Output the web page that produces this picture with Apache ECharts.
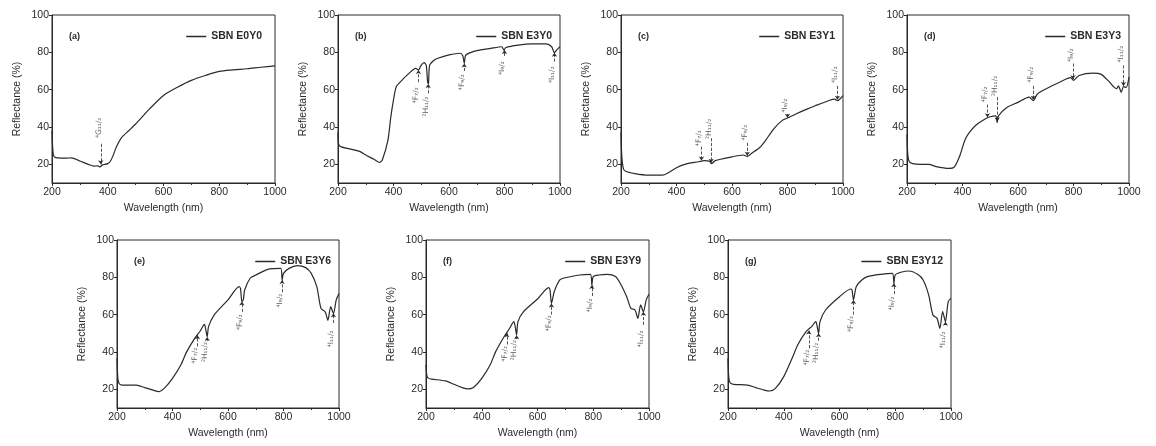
<!DOCTYPE html>
<html lang="en">
<head>
<meta charset="UTF-8">
<title>Reflectance spectra</title>
<script src="https://cdn.jsdelivr.net/npm/echarts@6/dist/echarts.min.js"></script>
<style>
  html, body { margin: 0; padding: 0; background: #fff; }
  #main { width: 1156px; height: 446px; }
</style>
</head>
<body>
<div id="main"></div>
<script>
// spectra [wavelength nm, reflectance %]
const specA = [[200,38],[202,30],[205,25],[210,23.8],[220,23.5],[250,23.3],[270,23.5],[300,21.8],[330,20],[350,19],[365,19.2],[372,18.6],[380,19.6],[400,20.4],[410,21.8],[420,25],[430,29],[450,34.4],[475,38],[500,41.6],[550,49.7],[600,56.9],[650,61.3],[700,65],[750,67.6],[800,69.8],[850,70.6],[900,71.2],[950,72],[1000,72.7]];
const specB = [[200,37],[202,31],[210,29.5],[250,28],[280,26.8],[300,25],[330,22.7],[350,21],[360,22.5],[380,33],[390,45],[400,54.5],[410,61.6],[430,65],[450,67.9],[480,71.4],[490,70.6],[500,73.2],[510,74.5],[518,73],[523,64],[526,63],[530,73],[545,75.6],[560,76.8],[600,78.6],[640,79.5],[650,78],[655,74.1],[660,78.4],[680,80],[700,80.9],[750,82.1],[790,83],[798,81.2],[805,82.6],[850,83.9],[900,84.5],[950,84.5],[970,83],[980,79.8],[990,81.6],[1000,83]];
const specC = [[200,37],[203,24],[208,18],[215,16.4],[250,15],[300,14.2],[350,14.2],[370,15.5],[400,18.2],[430,20],[480,21.4],[500,22],[520,21.6],[526,20.3],[540,22],[600,24],[640,25],[655,24.2],[670,25.8],[700,29],[720,32.6],[750,38.9],[780,43.4],[800,44.8],[830,47],[870,49.6],[900,51.4],[950,54.2],[970,54.9],[980,54.1],[1000,56.8]];
const specD = [[200,36],[203,25],[208,21.5],[220,20.4],[250,20],[280,20],[300,19],[350,17.8],[370,18.5],[390,24.5],[410,33.5],[430,38],[450,41.2],[480,44.2],[500,45.5],[520,46],[525,42.4],[530,46],[560,50.5],[600,53.2],[640,56],[655,54.1],[670,57.7],[700,60.4],[750,64],[790,66.4],[800,65],[820,67.6],[870,68.9],[900,68.2],[930,64],[945,61.5],[955,60.5],[962,62],[972,58.6],[980,61.6],[990,61.2],[1000,66.7]];
const specE = [[200,36.6],[203,26],[208,23],[220,22.3],[270,22.3],[300,20.9],[330,19.6],[350,18.75],[370,20.5],[400,25.9],[430,33],[450,39.8],[480,47.3],[500,51.25],[515,54.8],[520,51.8],[525,48.2],[530,53.6],[550,59.8],[600,67.9],[640,75],[645,74.1],[650,67],[655,67.9],[660,73.2],[680,79.5],[700,81.25],[750,84.5],[790,84.8],[795,78.6],[800,82.1],[820,84.8],[850,86.25],[880,85.2],[900,82.1],[920,75],[935,63.4],[950,61.6],[960,57],[970,64.3],[980,60.7],[990,67.9],[1000,71.4]];
const specF = [[200,33],[203,27.5],[208,26],[220,25.5],[270,24.5],[300,22.7],[330,20.9],[350,20.2],[370,21],[400,25.9],[430,33],[450,40.2],[480,48.2],[500,52.7],[515,56.25],[520,53.6],[525,49.1],[530,56.25],[550,61.6],[600,68.4],[640,74.5],[645,73.2],[650,66],[660,72.3],[680,78.6],[700,79.8],[750,81.25],[790,81.6],[795,75.9],[800,80.4],[820,81.25],[850,81.6],[880,80.4],[900,75.9],[920,69.6],[935,63.4],[950,62.5],[960,58],[970,65.2],[980,61.6],[990,67.9],[1000,70.9]];
const specG = [[200,36.6],[203,26],[208,23.5],[220,22.7],[270,22.3],[300,20.9],[330,19.6],[350,19.1],[370,20.5],[400,26.8],[430,36.6],[450,43.75],[480,50.9],[500,53.6],[515,56.25],[520,53.6],[525,50],[530,56.25],[550,62.5],[600,69.6],[640,73.75],[645,73.2],[650,67.9],[660,75],[680,78.6],[700,80.4],[750,81.6],[790,82.1],[795,76.8],[800,81.25],[820,82.7],[850,83.4],[880,81.6],[900,78.6],[920,70.5],[935,59.8],[950,58],[960,52.7],[970,61.6],[980,56.25],[990,67],[1000,68.75]];

const sampleNames = ['SBN E0Y0','SBN E3Y0','SBN E3Y1','SBN E3Y3','SBN E3Y6','SBN E3Y9','SBN E3Y12'];
const panelTags = ['(a)','(b)','(c)','(d)','(e)','(f)','(g)'];
const xTicks = [200,400,600,800,1000];
const yTicks = [20,40,60,80,100];

// transition marks: [wavelength, label, label centre y, arrow from y, arrow to y]
const annA = [[375,'⁴G₁₁/₂',39.5,31,20]];
const annB = [[490,'⁴F₇/₂',57,64,70.5],[525,'²H₁₁/₂',51,58,63],[655,'⁴F₉/₂',64,70,74],[800,'⁴I₉/₂',71.5,78,81.2],[980,'⁴I₁₁/₂',68,75,79.8]];
const annC = [[490,'⁴F₇/₂',34,29.5,22],[525,'²H₁₁/₂',39,34,20.8],[655,'⁴F₉/₂',37,31.5,24.6],[800,'⁴I₉/₂',51.5,47,45],[980,'⁴I₁₁/₂',68,62,54.6]];
const annD = [[490,'⁴F₇/₂',57.5,52,45.2],[525,'²H₁₁/₂',62,56,43],[655,'⁴F₉/₂',68,62,54.6],[798,'⁴I₉/₂',78.5,74,65.6],[980,'⁴I₁₁/₂',79,73,62]];
const annE = [[490,'⁴F₇/₂',38,43,49],[525,'²H₁₁/₂',40,46,48],[650,'⁴F₉/₂',56,61.5,67],[795,'⁴I₉/₂',67.5,72,78.6],[980,'⁴I₁₁/₂',47,55.5,60.7]];
const annF = [[490,'⁴F₇/₂',39,44,50],[525,'²H₁₁/₂',41,47,49],[650,'⁴F₉/₂',55.4,60,66],[795,'⁴I₉/₂',65,70,75.9],[980,'⁴I₁₁/₂',47,54.5,61.6]];
const annG = [[490,'⁴F₇/₂',37,42,51.5],[525,'²H₁₁/₂',39.5,46,50],[650,'⁴F₉/₂',55,60,67.9],[795,'⁴I₉/₂',66,71,76.8],[980,'⁴I₁₁/₂',46.5,54.5,56.2]];

const spectra = [specA, specB, specC, specD, specE, specF, specG];
const marks = [annA, annB, annC, annD, annE, annF, annG];

// panel boxes in px
const boxes = [
    {left: 52, top: 15, width: 223, height: 168},
    {left: 338, top: 15, width: 222, height: 168},
    {left: 621, top: 15, width: 222, height: 168},
    {left: 907, top: 15, width: 222, height: 168},
    {left: 117, top: 240, width: 222, height: 168},
    {left: 426, top: 240, width: 223, height: 168},
    {left: 728, top: 240, width: 223, height: 168}
];

const FONT = '"Liberation Sans", Arial, "DejaVu Sans", sans-serif';
const INK = '#2a2a2a';

let grid = [], xAxis = [], yAxis = [], series = [], legend = [], title = [];

boxes.forEach((b, i) => {
    grid.push({left: b.left, top: b.top, width: b.width, height: b.height,
        show: true, borderColor: INK, borderWidth: 1, containLabel: false});
    xAxis.push({
        gridIndex: i, type: 'value', min: 200, max: 1000, interval: 200,
        axisLine: {show: true, lineStyle: {color: INK, width: 1}},
        axisTick: {show: true, length: 3, lineStyle: {color: INK}},
        minorTick: {show: true, splitNumber: 2, length: 2, lineStyle: {color: INK}},
        splitLine: {show: false},
        axisLabel: {fontSize: 10.5, margin: 4, color: INK, fontFamily: FONT, formatter: v => String(v)},
        name: 'Wavelength (nm)', nameLocation: 'middle', nameGap: 20,
        nameTextStyle: {fontSize: 10.5, color: INK, fontFamily: FONT}
    });
    yAxis.push({
        gridIndex: i, type: 'value', min: 10, max: 100,
        axisLine: {show: true, lineStyle: {color: INK, width: 1}},
        axisTick: {show: true, length: 3, customValues: yTicks, lineStyle: {color: INK}},
        splitLine: {show: false},
        axisLabel: {fontSize: 10.5, margin: 3, color: INK, fontFamily: FONT, customValues: yTicks},
        name: 'Reflectance (%)', nameLocation: 'middle', nameGap: 29,
        nameTextStyle: {fontSize: 10.5, color: INK, fontFamily: FONT}
    });
    series.push({
        name: sampleNames[i], type: 'line', xAxisIndex: i, yAxisIndex: i,
        data: spectra[i], symbol: 'none', smooth: 0.25,
        lineStyle: {color: INK, width: 1.2}, itemStyle: {color: INK}
    });
    series.push({
        type: 'scatter', xAxisIndex: i, yAxisIndex: i, symbolSize: 0, silent: true,
        data: marks[i].map(m => ({value: [m[0] - 8, m[2]], name: m[1]})),
        label: {show: true, position: 'inside', rotate: 90, formatter: '{b}',
            fontSize: 7.5, color: INK, fontFamily: '"DejaVu Sans", sans-serif'},
        markLine: {
            silent: true, symbol: ['none', 'arrow'], symbolSize: 4,
            lineStyle: {type: 'dashed', width: 0.8, color: INK},
            label: {show: false},
            data: marks[i].map(m => [{coord: [m[0], m[3]]}, {coord: [m[0], m[4]]}])
        }
    });
    legend.push({
        data: [sampleNames[i]],
        right: 1156 - (b.left + b.width) + (i === 0 ? 8 : 3),
        top: b.top + 11,
        icon: 'rect', itemWidth: 20, itemHeight: 1.5, itemGap: 4,
        textStyle: {fontSize: 10.5, fontWeight: 'bold', color: INK, fontFamily: FONT},
        selectedMode: false
    });
    title.push({
        text: panelTags[i], left: b.left + 12, top: b.top + 12,
        textStyle: {fontSize: 9, fontWeight: 'bold', color: INK, fontFamily: FONT}
    });
});

const chart = echarts.init(document.getElementById('main'));
chart.setOption({
    animation: false,
    backgroundColor: '#fff',
    title: title,
    legend: legend,
    grid: grid,
    xAxis: xAxis,
    yAxis: yAxis,
    series: series
});
</script>
</body>
</html>
